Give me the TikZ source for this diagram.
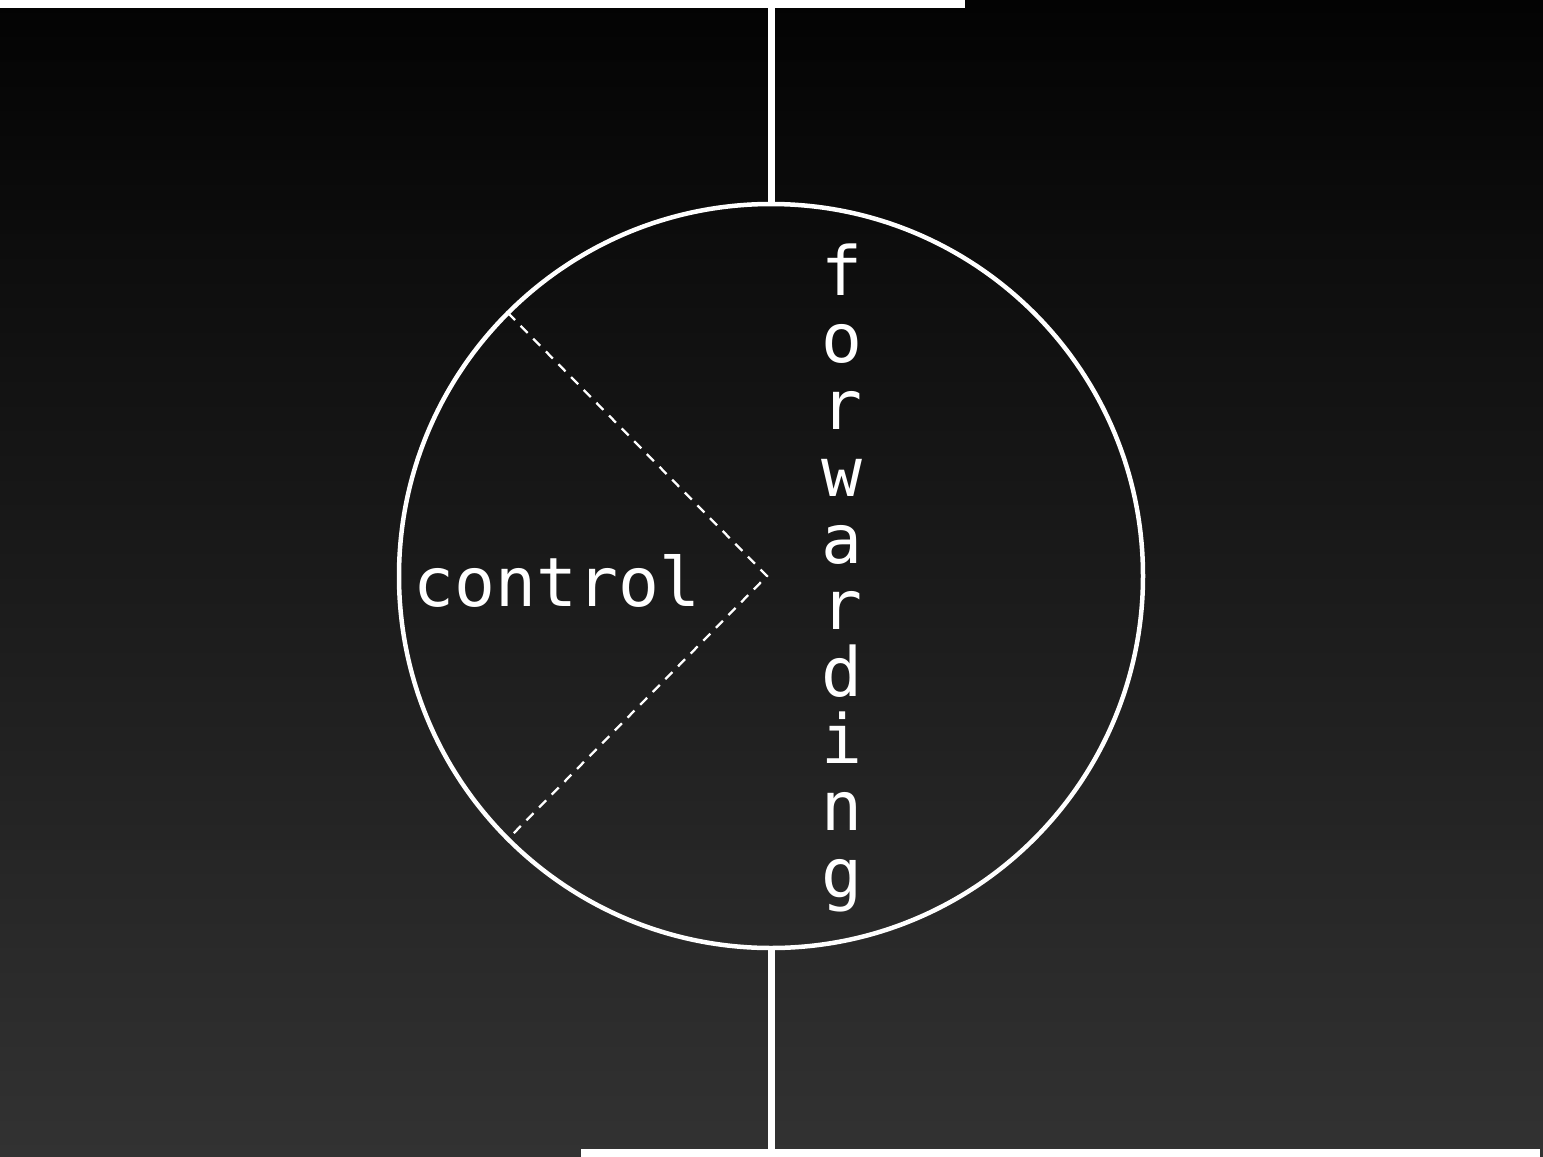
\documentclass[tikz,border=0pt]{standalone}
\usepackage{fontspec}
\setmonofont{DejaVu Sans Mono}
\begin{document}
\begin{tikzpicture}[x=1pt,y=-1pt,
  bar/.style={fill=white,draw=none,inner sep=0pt,outer sep=0pt},
  wire/.style={draw=white,line width=7pt},
  ring/.style={draw=white,line width=4.5pt,circle,minimum size=744pt,inner sep=0pt,outer sep=0pt},
  split/.style={draw=white,line width=2.3pt,dash pattern=on 10pt off 8pt},
  lbl/.style={text=white,font=\ttfamily\fontsize{68}{66.8}\selectfont,inner sep=0pt}]
\useasboundingbox (0,0) rectangle (1543,1157);
\shade[top color={rgb,255:red,3;green,3;blue,3},bottom color={rgb,255:red,50;green,50;blue,50}] (0,0) rectangle (1543,1157);
\node[bar,minimum width=965pt,minimum height=8pt,anchor=north west] (topbar) at (0,0) {};
\node[bar,minimum width=959pt,minimum height=8pt,anchor=south west] (botbar) at (581,1157) {};
\node[ring] (router) at (771,576) {};
\draw[wire] (router.north) -- (router.north |- topbar.south);
\draw[wire] (router.south) -- (router.south |- botbar.north);
\coordinate (apex) at (767,576);
\draw[split] (router.135) -- (apex) -- (router.225);
\node[lbl,anchor=base] (control) at (557,606) {control};
\node[lbl,align=center,anchor=base] (fwd) at (842,897) {f\\o\\r\\w\\a\\r\\d\\i\\n\\g};
\end{tikzpicture}
\end{document}
